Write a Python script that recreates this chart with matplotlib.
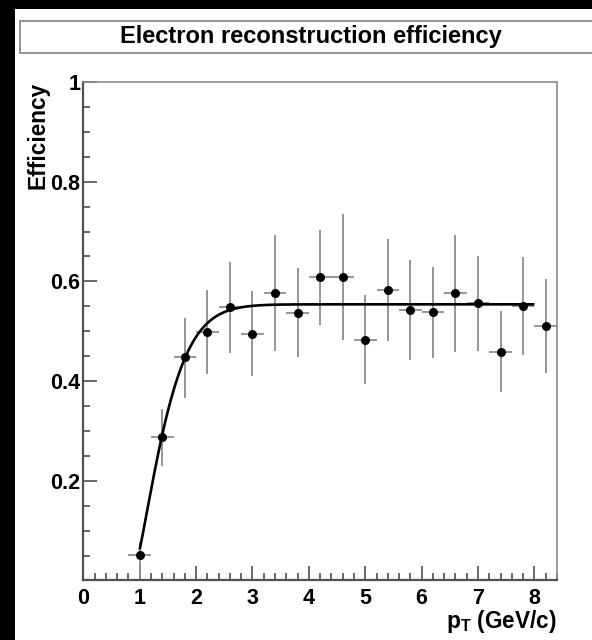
import numpy as np
import matplotlib
matplotlib.use("Agg")
import matplotlib.pyplot as plt
from matplotlib.patches import Rectangle
from matplotlib.ticker import FixedLocator, MultipleLocator, NullFormatter

plt.rcParams["font.family"] = ["Liberation Sans", "DejaVu Sans"]
plt.rcParams["font.weight"] = "bold"
plt.rcParams["mathtext.fontset"] = "custom"
plt.rcParams["mathtext.bf"] = "Liberation Sans:bold"
plt.rcParams["mathtext.rm"] = "Liberation Sans:bold"
plt.rcParams["mathtext.default"] = "bf"

# Measured efficiency per pT bin (bin width 0.4 GeV/c)
pt = [1.0, 1.4, 1.8, 2.2, 2.6, 3.0, 3.4, 3.8, 4.2, 4.6,
      5.0, 5.4, 5.8, 6.2, 6.6, 7.0, 7.4, 7.8, 8.2]
pt_halfwidth = [0.2] * 19
eff = [0.052, 0.288, 0.448, 0.499, 0.548, 0.495, 0.577, 0.537, 0.608, 0.609,
       0.482, 0.582, 0.542, 0.538, 0.576, 0.556, 0.458, 0.550, 0.510]
eff_err_low = [0.052, 0.058, 0.081, 0.084, 0.091, 0.085, 0.117, 0.089, 0.096, 0.126,
               0.088, 0.101, 0.100, 0.091, 0.118, 0.096, 0.080, 0.098, 0.094]
eff_err_high = [0.026, 0.057, 0.079, 0.083, 0.091, 0.085, 0.117, 0.089, 0.096, 0.127,
                0.090, 0.104, 0.101, 0.090, 0.118, 0.095, 0.083, 0.099, 0.094]

# Turn-on fit: plateau * (1 - exp(-((pT - threshold)/scale)^power))
fit_plateau = 0.554
fit_threshold = 0.85
fit_scale = 0.673
fit_power = 1.42
fit_range = (1.0, 8.0)

x_ticks_major = [0, 1, 2, 3, 4, 5, 6, 7, 8]
y_ticks_major = [0.2, 0.4, 0.6, 0.8, 1.0]
y_tick_labels = ["0.2", "0.4", "0.6", "0.8", "1"]

W, H = 592, 640
fig = plt.figure(figsize=(W / 100, H / 100), dpi=100)
fig.patch.set_facecolor("black")

# white canvas
fig.patches.append(Rectangle((15 / W, 0), 1 - 15 / W, (H - 9) / H,
                             transform=fig.transFigure, facecolor="white",
                             edgecolor="none", zorder=-10))
# title box
fig.patches.append(Rectangle((20 / W, 1 - 52.7 / H), 1.0, 32 / H,
                             transform=fig.transFigure, facecolor="white",
                             edgecolor="#8c8c8c", linewidth=1.3, zorder=-5))
fig.text(310.5 / W, 1 - 37.0 / H, "Electron reconstruction efficiency",
         ha="center", va="center", fontsize=17, fontweight="bold", color="black")

ax = fig.add_axes([83.3 / W, 1 - 580 / H, (557 - 83.3) / W, (580 - 82) / H])
ax.set_facecolor("white")

ax.errorbar(pt, eff, xerr=pt_halfwidth, yerr=[eff_err_low, eff_err_high],
            fmt="none", ecolor="#8e8e8e", elinewidth=1.3, capsize=0, zorder=2)

xf = np.linspace(fit_range[0], fit_range[1], 400)
yf = fit_plateau * (1 - np.exp(-((xf - fit_threshold) / fit_scale) ** fit_power))
ax.plot(xf, yf, color="black", lw=1.9, zorder=3, solid_capstyle="butt")

ax.plot(pt, eff, "o", color="black", markersize=5.5, zorder=4)

ax.set_xlim(0, 8.4)
ax.set_ylim(0.001, 1.0)

ax.xaxis.set_major_locator(FixedLocator(x_ticks_major))
ax.xaxis.set_minor_locator(MultipleLocator(0.2))
ax.yaxis.set_major_locator(FixedLocator(y_ticks_major))
ax.set_yticklabels(y_tick_labels)
ax.yaxis.set_minor_locator(FixedLocator(
    [v for v in np.arange(0.05, 1.0, 0.05) if abs(v / 0.2 - round(v / 0.2)) > 1e-6]))
ax.yaxis.set_minor_formatter(NullFormatter())

axis_color = "#505050"
ax.tick_params(axis="both", which="major", direction="in", length=10,
               width=1.2, color=axis_color, labelsize=15.5, pad=6)
ax.tick_params(axis="both", which="minor", direction="in", length=5,
               width=1.2, color=axis_color)
ax.tick_params(top=False, right=False, which="both")
ax.tick_params(axis="y", pad=2)
for lab in ax.get_xticklabels() + ax.get_yticklabels():
    lab.set_fontweight("bold")

for side in ("left", "bottom"):
    ax.spines[side].set_color(axis_color)
    ax.spines[side].set_linewidth(1.6)
for side in ("top", "right"):
    ax.spines[side].set_color("#8c8c8c")
    ax.spines[side].set_linewidth(1.2)

ax.text(-0.096, 1.0, "Efficiency", rotation=90, ha="center", va="top",
        transform=ax.transAxes, fontsize=16.3, fontweight="bold")
ax.text(1.0, -0.0964, r"$p_T$ (GeV/c)", ha="right", va="baseline",
        transform=ax.transAxes, fontsize=16.3, fontweight="bold")

fig.savefig("out.png", dpi=100, facecolor=fig.get_facecolor())
